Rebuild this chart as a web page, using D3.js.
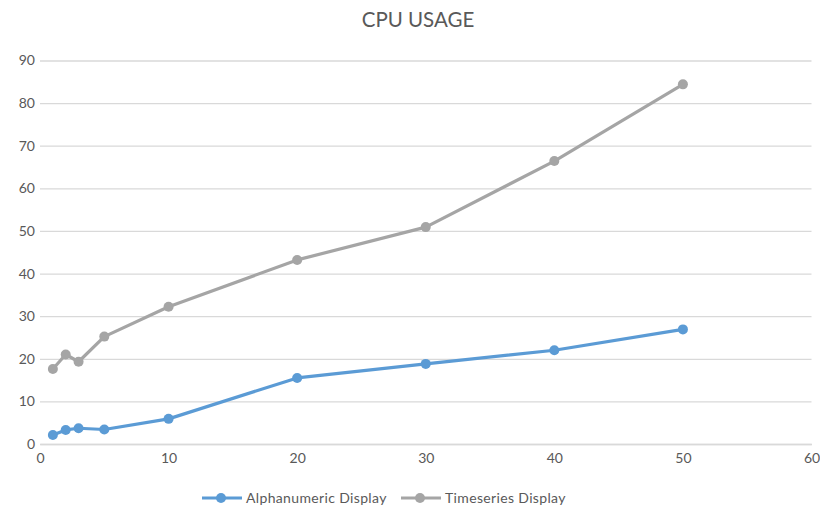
<!DOCTYPE html>
<html><head><meta charset="utf-8">
<script src="https://cdn.jsdelivr.net/npm/d3@7"></script>
<style>body{margin:0;background:#fff}svg{display:block}text{font-family:Lato,"Open Sans",sans-serif;fill:#595959}</style>
</head><body><svg id="c" width="820" height="509"></svg>
<script>
const xValues = [1, 2, 3, 5, 10, 20, 30, 40, 50];
const alphanumeric = [2.1, 3.3, 3.7, 3.4, 5.9, 15.5, 18.8, 22.0, 26.9];
const timeseries = [17.6, 21.0, 19.3, 25.2, 32.2, 43.2, 50.9, 66.4, 84.4];
const seriesNames = ["Alphanumeric Display", "Timeseries Display"];
const seriesColors = ["#5B9BD5", "#A5A5A5"];
const xTicks = [0, 10, 20, 30, 40, 50, 60];
const yTicks = [0, 10, 20, 30, 40, 50, 60, 70, 80, 90];

const svg = d3.select("#c");
const x = d3.scaleLinear().domain([0, 60]).range([40, 811.5]);
const y = d3.scaleLinear().domain([0, 90]).range([444, 60.5]);

svg.append("text").attr("x", 418).attr("y", 27).attr("text-anchor", "middle")
  .style("font-size", "20.5px").text("CPU USAGE");

// gridlines
const gy = svg.append("g").attr("transform", "translate(40,0)")
  .call(d3.axisLeft(y).tickValues(yTicks).tickSize(-(x(60) - x(0))).tickPadding(6));
gy.select(".domain").remove();
gy.selectAll(".tick line").attr("stroke", "#D9D9D9").attr("stroke-width", 1.3);
gy.selectAll(".tick text").style("font-size", "14px").attr("fill", "#595959").attr("x", -5);

const gx = svg.append("g").attr("transform", "translate(0,444)")
  .call(d3.axisBottom(x).tickValues(xTicks).tickSize(0).tickPadding(9));
gx.select(".domain").attr("stroke", "#D9D9D9").attr("stroke-width", 1.3);
gx.selectAll(".tick text").style("font-size", "14px").attr("fill", "#595959");

const data = [alphanumeric, timeseries];
const line = d3.line().x((d, i) => x(xValues[i])).y(d => y(d));
data.forEach((vals, si) => {
  svg.append("path").datum(vals).attr("d", line).attr("fill", "none")
    .attr("stroke", seriesColors[si]).attr("stroke-width", 3.2).attr("stroke-linejoin", "round");
  svg.append("g").selectAll("circle").data(vals).join("circle")
    .attr("cx", (d, i) => x(xValues[i])).attr("cy", d => y(d)).attr("r", 5)
    .attr("fill", seriesColors[si]);
});

// legend
const legendX = [202, 401];
seriesNames.forEach((name, si) => {
  const g = svg.append("g").attr("transform", `translate(${legendX[si]},498)`);
  g.append("line").attr("x1", 0).attr("x2", 40).attr("stroke", seriesColors[si]).attr("stroke-width", 3.2);
  g.append("circle").attr("cx", 19).attr("r", 5).attr("fill", seriesColors[si]);
  g.append("text").attr("x", 44).attr("y", 5).style("font-size", "14px")
    .style("letter-spacing", "0.35px").text(name);
});
</script></body></html>
